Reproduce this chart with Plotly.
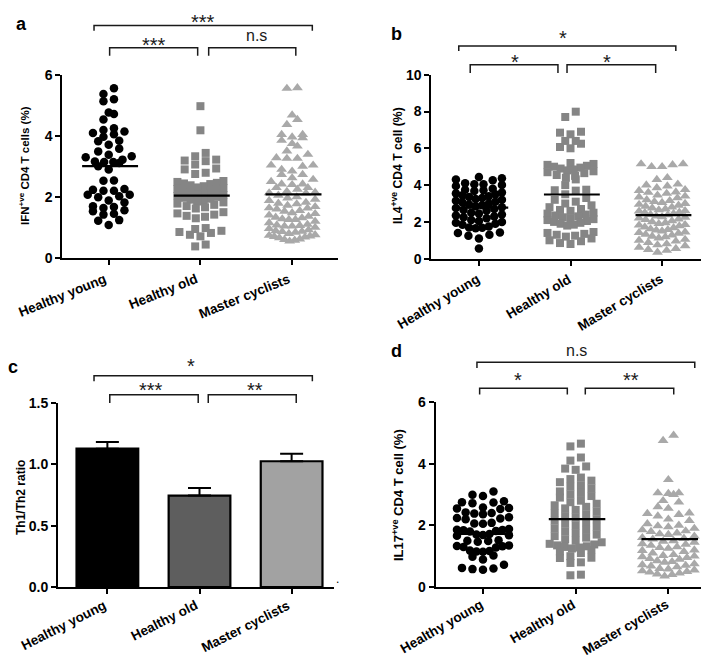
import plotly.graph_objects as go

W, H = 709, 656
FONT = "Liberation Sans, Arial, sans-serif"

categories = ["Healthy young", "Healthy old", "Master cyclists"]

# ---------------- panel a : IFN+ve CD4 T cells (%) ----------------
ifn_young = [5.56, 5.37, 5.20, 5.13, 4.76, 4.71, 4.53, 4.25, 4.19, 4.14, 4.09, 4.05, 3.97, 3.84,
             3.82, 3.71, 3.58, 3.49, 3.38, 3.33, 3.30, 3.22, 3.16, 3.14, 3.14, 3.11, 3.00, 2.90,
             2.54, 2.53, 2.26, 2.23, 2.20, 2.20, 2.07, 2.07, 2.02, 1.99, 1.88, 1.82, 1.69, 1.67,
             1.64, 1.56, 1.53, 1.45, 1.42, 1.24, 1.22, 1.08]
ifn_old = [4.97, 4.18, 3.44, 3.33, 3.22, 3.19, 3.17, 3.06, 2.93, 2.90, 2.79, 2.75, 2.52, 2.49,
           2.46, 2.44, 2.42, 2.38, 2.35, 2.31, 2.29, 2.26, 2.24, 2.21, 2.18, 2.15, 2.12, 2.09,
           2.06, 2.03, 2.00, 1.97, 1.94, 1.91, 1.88, 1.85, 1.82, 1.78, 1.74, 1.70, 1.66, 1.62,
           1.50, 1.46, 1.42, 1.38, 1.35, 1.30, 0.98, 0.95, 0.89, 0.85, 0.82, 0.76, 0.71, 0.44, 0.38]
ifn_cyclists = [5.57, 5.55, 4.68, 4.53, 4.37, 4.04, 4.04, 3.96, 3.93, 3.85, 3.74, 3.66, 3.50, 3.39,
                3.28, 3.26, 3.26, 3.04, 3.04, 3.00, 2.90, 2.84, 2.73, 2.73, 2.62, 2.57, 2.50, 2.42,
                2.42, 2.40, 2.30, 2.30, 2.25, 2.18, 2.15, 2.13, 2.12, 2.05, 2.00, 1.96, 1.92, 1.88,
                1.82, 1.79, 1.77, 1.72, 1.68, 1.64, 1.63, 1.60, 1.55, 1.53, 1.48, 1.45, 1.40, 1.36,
                1.33, 1.31, 1.28, 1.26, 1.26, 1.20, 1.15, 1.10, 1.08, 1.06, 1.04, 1.04, 1.00, 0.96,
                0.92, 0.89, 0.87, 0.86, 0.84, 0.80, 0.76, 0.74, 0.72, 0.70, 0.68, 0.66, 0.62, 0.60,
                0.58, 0.55]
ifn_means = [3.01, 2.04, 2.08]

# ---------------- panel b : IL4+ve CD4 T cell (%) ----------------
il4_young = [4.44, 4.37, 4.31, 4.26, 4.10, 4.05, 4.04, 4.00, 3.95, 3.80, 3.75, 3.72, 3.68, 3.60,
             3.55, 3.50, 3.45, 3.40, 3.35, 3.30, 3.25, 3.20, 3.15, 3.10, 3.05, 3.00, 2.95, 2.90,
             2.85, 2.80, 2.75, 2.70, 2.65, 2.60, 2.50, 2.45, 2.40, 2.35, 2.30, 2.25, 2.20, 2.10,
             2.05, 2.00, 1.95, 1.90, 1.85, 1.75, 1.70, 1.68, 1.65, 1.42, 1.40, 1.30, 1.25, 1.10, 0.55]
il4_old = [7.99, 7.70, 6.90, 6.85, 6.76, 6.40, 6.40, 6.25, 6.07, 6.00, 5.20, 5.15, 5.10, 5.05,
           5.00, 4.95, 4.90, 4.85, 4.80, 4.75, 4.70, 4.65, 4.55, 4.50, 4.40, 4.31, 4.00, 3.75,
           3.72, 3.70, 3.50, 3.30, 3.20, 3.10, 3.00, 2.90, 2.80, 2.70, 2.65, 2.60, 2.50, 2.45,
           2.40, 2.35, 2.30, 2.25, 2.20, 2.15, 2.10, 2.05, 2.00, 1.95, 1.90, 1.85, 1.80, 1.45,
           1.40, 1.35, 1.30, 1.25, 1.20, 1.10, 1.00, 0.95, 0.85, 0.80]
il4_cyclists = [5.15, 5.15, 5.10, 5.00, 5.00, 4.40, 4.30, 4.05, 4.00, 3.95, 3.85, 3.75, 3.70, 3.62,
                3.60, 3.55, 3.45, 3.40, 3.35, 3.30, 3.20, 3.15, 3.10, 3.05, 3.00, 2.95, 2.90, 2.85,
                2.80, 2.75, 2.70, 2.65, 2.60, 2.58, 2.52, 2.50, 2.45, 2.40, 2.38, 2.32, 2.28, 2.25,
                2.20, 2.15, 2.12, 2.05, 2.00, 1.95, 1.90, 1.85, 1.82, 1.78, 1.72, 1.68, 1.62, 1.58,
                1.55, 1.50, 1.45, 1.42, 1.38, 1.32, 1.28, 1.22, 1.18, 1.12, 1.05, 1.00, 0.95, 0.88,
                0.80, 0.75, 0.70, 0.62, 0.55, 0.50, 0.45, 0.35]
il4_means = [2.78, 3.49, 2.37]

# ---------------- panel c : Th1/Th2 ratio ----------------
ratio_means = [1.128, 0.745, 1.025]
ratio_sem = [0.054, 0.062, 0.062]

# ---------------- panel d : IL17+ve CD4 T cell (%) ----------------
il17_young = [3.10, 2.99, 2.95, 2.78, 2.75, 2.74, 2.72, 2.58, 2.56, 2.55, 2.53, 2.42, 2.40, 2.38,
              2.36, 2.26, 2.24, 2.22, 2.20, 2.08, 2.06, 2.05, 1.88, 1.86, 1.85, 1.84, 1.82, 1.80,
              1.72, 1.70, 1.69, 1.68, 1.66, 1.52, 1.50, 1.49, 1.47, 1.35, 1.33, 1.32, 1.30, 1.28,
              1.18, 1.17, 1.15, 1.14, 1.02, 0.98, 0.89, 0.72, 0.62, 0.60, 0.58, 0.56]
il17_old = [4.65, 4.56, 4.20, 4.10, 3.91, 3.84, 3.80, 3.55, 3.50, 3.45, 3.40, 3.30, 3.25, 3.20,
            3.10, 3.05, 3.00, 2.95, 2.90, 2.80, 2.75, 2.70, 2.65, 2.60, 2.55, 2.50, 2.45, 2.40,
            2.35, 2.30, 2.25, 2.20, 2.15, 2.10, 2.05, 2.00, 1.95, 1.90, 1.85, 1.80, 1.75, 1.70,
            1.65, 1.60, 1.55, 1.50, 1.45, 1.40, 1.38, 1.35, 1.32, 1.30, 1.28, 1.25, 1.20, 1.15,
            1.10, 1.00, 0.95, 0.94, 0.80, 0.78, 0.40, 0.38]
il17_cyclists = [4.92, 4.75, 3.48, 3.05, 3.05, 3.03, 3.00, 2.80, 2.75, 2.60, 2.55, 2.40, 2.38, 2.35,
                 2.30, 2.20, 2.15, 2.05, 2.00, 1.98, 1.95, 1.90, 1.85, 1.82, 1.80, 1.75, 1.72, 1.70,
                 1.65, 1.60, 1.58, 1.55, 1.50, 1.48, 1.45, 1.40, 1.38, 1.35, 1.30, 1.28, 1.25, 1.20,
                 1.18, 1.15, 1.10, 1.05, 1.02, 1.00, 0.98, 0.95, 0.92, 0.90, 0.85, 0.82, 0.80, 0.75,
                 0.72, 0.70, 0.68, 0.65, 0.60, 0.58, 0.55, 0.52, 0.50, 0.48, 0.45, 0.42, 0.40, 0.35]
il17_means = [1.72, 2.20, 1.55]

# ---------------- layout of the four panels (pixel boxes) ----------------
panels = [
    dict(letter="a", left=54.3, right=330.0, top=66.7, bottom=250.0, ext_top=0.0,
         xr=[-0.506, 2.50], yr=[0, 6], ticks=[0, 2, 4, 6], fmt="", half=23,
         cat_angle=-22, cat_shift=1, cat_gap=12,
         ytitle="IFN<sup>+ve</sup> CD4 T cells (%)", ytsize=11.5, ytx=16, yty=158,
         lx=13, ly=16,
         groups=[ifn_young, ifn_old, ifn_cyclists], means=ifn_means,
         brackets=[(0.01, 0.97, 6.885, 6.62), (1.09, 2.04, 6.885, 6.62), (-0.16, 2.22, 7.607, 7.44)],
         stars=[(0.49, 6.98, "***", 20), (1.61, 7.28, "n.s", 16), (1.03, 7.74, "***", 20)]),
    dict(letter="b", left=423.3, right=701.7, top=66.7, bottom=250.7, ext_top=0.0,
         xr=[-0.52, 2.52], yr=[0, 10], ticks=[0, 2, 4, 6, 8, 10], fmt="", half=23,
         cat_angle=-31, cat_shift=5, cat_gap=11,
         ytitle="IL4<sup>+ve</sup> CD4 T cell (%)", ytsize=12.2, ytx=389, yty=158,
         lx=388, ly=26,
         groups=[il4_young, il4_old, il4_cyclists], means=il4_means,
         brackets=[(-0.095, 0.863, 10.54, 10.09), (0.962, 1.93, 10.54, 10.09), (-0.22, 2.15, 11.56, 11.29)],
         stars=[(0.39, 10.69, "*", 20), (1.40, 10.69, "*", 20), (0.918, 12.0, "*", 20)]),
    dict(letter="c", left=50.0, right=326.0, top=395.0, bottom=579.0, ext_top=330.0,
         xr=[-0.536, 2.46], yr=[0, 1.5], ticks=[0, 0.5, 1.0, 1.5], fmt=".1f", half=23,
         cat_angle=-27, cat_shift=2, cat_gap=9,
         ytitle="Th1/Th2 ratio", ytsize=12, ytx=13, yty=490,
         lx=5, ly=359,
         groups=None, means=ratio_means,
         brackets=[(0.026, 0.986, 1.568, 1.5), (1.095, 2.05, 1.568, 1.5), (-0.145, 2.225, 1.723, 1.677)],
         stars=[(0.47, 1.608, "***", 20), (1.60, 1.608, "**", 20), (0.913, 1.799, "*", 20)]),
    dict(letter="d", left=427.7, right=706.7, top=394.0, bottom=579.0, ext_top=330.0,
         xr=[-0.51, 2.50], yr=[0, 6], ticks=[0, 2, 4, 6], fmt="", half=26,
         cat_angle=-30, cat_shift=4, cat_gap=8,
         ytitle="IL17<sup>+ve</sup> CD4 T cell (%)", ytsize=13, ytx=390, yty=487,
         lx=388, ly=343,
         groups=[il17_young, il17_old, il17_cyclists], means=il17_means,
         brackets=[(-0.036, 0.91, 6.45, 6.24), (1.104, 2.058, 6.45, 6.24), (-0.065, 2.285, 7.29, 7.10)],
         stars=[(0.378, 6.70, "*", 20), (1.60, 6.70, "**", 20), (1.007, 7.66, "n.s", 16)]),
]

marker_styles = [
    dict(symbol="circle", color="#000000", size=8.5),
    dict(symbol="square", color="#858585", size=8),
    dict(symbol="triangle-up", color="#a9a9a9", size=9.5),
]
bar_colors = ["#000000", "#5e5e5e", "#a2a2a2"]


def swarm_offsets(vals, px_per_unit, px_per_cat, step_px=10.5, row_px=6.5, max_half_px=23):
    """Prism-like scatter-dot layout: group close values in rows, spread them side by side."""
    order = sorted(range(len(vals)), key=lambda i: vals[i])
    rows, cur = [], []
    for i in order:
        if cur and (vals[i] - vals[cur[0]]) * px_per_unit > row_px:
            rows.append(cur)
            cur = []
        cur.append(i)
    if cur:
        rows.append(cur)
    offs = [0.0] * len(vals)
    for row in rows:
        n = len(row)
        sp = step_px if n <= 1 else min(step_px, 2 * max_half_px / (n - 1))
        slots = [(k - (n - 1) / 2) * sp for k in range(n)]
        slots.sort(key=lambda s: (abs(s), s))
        for k, i in enumerate(row):
            offs[i] = slots[k] / px_per_cat
    return offs


fig = go.Figure()
layout = dict(width=W, height=H,
              margin=dict(l=0, r=0, t=0, b=0, pad=0, autoexpand=False),
              paper_bgcolor="white", plot_bgcolor="rgba(0,0,0,0)",
              showlegend=False, annotations=[])

for i, p in enumerate(panels, start=1):
    sfx = "" if i == 1 else str(i)
    xname, yname, bname = "x" + sfx, "y" + sfx, "y" + str(4 + i)
    px_per_unit = (p["bottom"] - p["top"]) / (p["yr"][1] - p["yr"][0])
    px_per_cat = (p["right"] - p["left"]) / (p["xr"][1] - p["xr"][0])

    layout["xaxis" + sfx] = dict(
        domain=[p["left"] / W, p["right"] / W], range=p["xr"], anchor=yname,
        tickmode="array", tickvals=[0, 1, 2], showticklabels=False, automargin=False,
        showline=True, linewidth=2, linecolor="black", ticks="outside", ticklen=5,
        tickwidth=2, tickcolor="black", showgrid=False, zeroline=False, fixedrange=True)
    layout["yaxis" + sfx] = dict(
        domain=[(H - p["bottom"]) / H, (H - p["top"]) / H], range=p["yr"], anchor=xname,
        tickmode="array", tickvals=p["ticks"], tickformat=p["fmt"], automargin=False,
        showline=True, linewidth=2, linecolor="black", ticks="outside", ticklen=5,
        tickwidth=2, tickcolor="black", showgrid=False, zeroline=False, fixedrange=True,
        tickfont=dict(family=FONT, size=14, color="black", weight="bold"))
    ext = p["yr"][1] * (p["bottom"] - p["ext_top"]) / (p["bottom"] - p["top"])
    layout["yaxis" + str(4 + i)] = dict(
        domain=[(H - p["bottom"]) / H, (H - p["ext_top"]) / H], range=[0, ext],
        anchor=xname, visible=False, fixedrange=True, automargin=False)

    if p["groups"] is not None:
        for g, vals in enumerate(p["groups"]):
            offs = swarm_offsets(vals, px_per_unit, px_per_cat, max_half_px=p["half"])
            st = marker_styles[g]
            fig.add_trace(go.Scatter(
                x=[g + o for o in offs], y=vals, mode="markers", xaxis=xname, yaxis=yname,
                marker=dict(symbol=st["symbol"], color=st["color"], size=st["size"],
                            line=dict(width=0)),
                cliponaxis=False, hoverinfo="y"))
        mx, my = [], []
        for g, m in enumerate(p["means"]):
            mx += [g - 0.29, g + 0.32, None]
            my += [m, m, None]
        fig.add_trace(go.Scatter(x=mx, y=my, mode="lines", xaxis=xname, yaxis=yname,
                                 line=dict(color="black", width=2.2), hoverinfo="skip"))
    else:
        fig.add_trace(go.Bar(
            x=[0, 1, 2], y=p["means"], width=0.67, xaxis=xname, yaxis=yname,
            marker=dict(color=bar_colors, line=dict(color="black", width=2.2)),
            error_y=dict(type="data", symmetric=False, array=ratio_sem,
                         arrayminus=[0, 0, 0], color="black", thickness=2, width=11.5)))

    # category labels, rotated, right-top corner just below each tick
    for g, cat in enumerate(categories):
        layout["annotations"].append(dict(
            x=g, y=(H - p["bottom"] - p["cat_gap"]) / H, xref=xname, yref="paper", text=cat,
            showarrow=False, textangle=p["cat_angle"], xanchor="right", yanchor="top",
            xshift=p["cat_shift"], borderpad=0,
            font=dict(family=FONT, size=13.5, color="black", weight="bold")))

    # significance brackets
    bx, by = [], []
    for (x0, x1, yt, yb) in p["brackets"]:
        bx += [x0, x0, x1, x1, None]
        by += [yb, yt, yt, yb, None]
    fig.add_trace(go.Scatter(x=bx, y=by, mode="lines", xaxis=xname, yaxis=bname,
                             line=dict(color="#1a1a1a", width=1.5), hoverinfo="skip"))
    for (sx, sy, txt, fs) in p["stars"]:
        layout["annotations"].append(dict(
            x=sx, y=sy, xref=xname, yref=bname, text=txt, showarrow=False,
            xanchor="center", yanchor="middle",
            font=dict(family=FONT, size=fs, color="#1a1a1a")))

    # panel letter
    layout["annotations"].append(dict(
        x=p["lx"] / W, y=1 - p["ly"] / H, xref="paper", yref="paper", text=p["letter"],
        showarrow=False, xanchor="center", yanchor="middle",
        font=dict(family=FONT, size=18, color="black", weight="bold")))
    # y-axis title
    layout["annotations"].append(dict(
        x=p["ytx"] / W, y=1 - p["yty"] / H, xref="paper", yref="paper", text=p["ytitle"],
        showarrow=False, textangle=-90, xanchor="center", yanchor="middle",
        font=dict(family=FONT, size=p["ytsize"], color="black", weight="bold")))

# tiny stray dot at the end of panel c x-axis
layout["annotations"].append(dict(x=329 / W, y=1 - 571 / H, xref="paper", yref="paper",
                                  text=".", showarrow=False, xanchor="center", yanchor="middle",
                                  font=dict(family=FONT, size=12, color="black")))

fig.update_layout(**layout)
fig.write_html("out.html")
